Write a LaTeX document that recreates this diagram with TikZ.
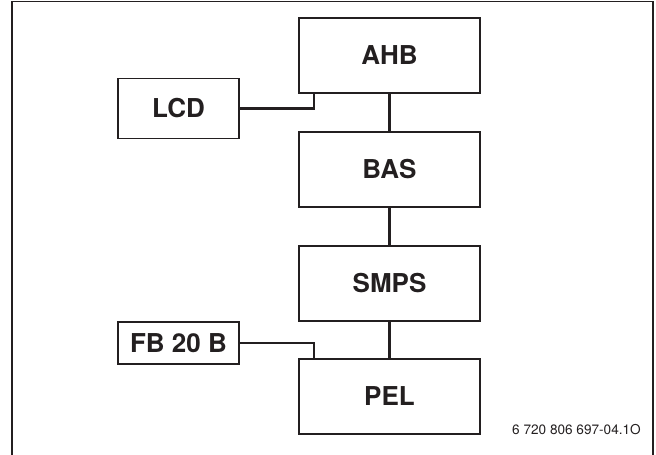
\documentclass[tikz,border=0pt]{standalone}
\usepackage{fontspec}
\setmainfont{TeX Gyre Heros}
\definecolor{ink}{HTML}{231F20}
\begin{document}
\begin{tikzpicture}[x=0.75pt,y=-0.75pt,
  mainbox/.style={draw=ink,line width=0.8pt,minimum width=135.75pt,minimum height=56.25pt,inner sep=0pt,font=\fontsize{19.5}{22}\selectfont\bfseries,text=ink},
  sidebox/.style={draw=ink,line width=0.8pt,minimum width=90.75pt,inner sep=0pt,font=\fontsize{19.5}{22}\selectfont\bfseries,text=ink},
  conn/.style={draw=ink,line width=1.6pt},
  frame/.style={draw=ink,line width=1.1pt}]
\useasboundingbox (0,0) rectangle (656,454);
\draw[frame] (12,455) -- (12,1.5) -- (653,1.5) -- (653,455);
\node[mainbox] (AHB) at (389.5,55.5) {AHB};
\node[mainbox] (BAS) at (389.5,169.5) {BAS};
\node[mainbox] (SMPS) at (389.5,283.5) {SMPS};
\node[mainbox] (PEL) at (389.5,396.5) {PEL};
\node[sidebox,minimum height=45pt] (LCD) at (178.5,108.5) {LCD};
\node[sidebox,minimum height=31.5pt] (FB) at (178.5,343) {FB 20 B};
\coordinate (lcdj) at (314,93);
\coordinate (fbj) at (314,359);
\draw[conn] (AHB) -- (BAS);
\draw[conn] (BAS) -- (SMPS);
\draw[conn] (SMPS) -- (PEL);
\draw[conn] (LCD.east) -| (lcdj);
\draw[conn] (FB.east) -| (fbj);
\node[anchor=east,inner sep=0pt,text=ink,font=\fontsize{10.2}{12}\selectfont] (code) at (641,430) {6 720 806 697-04.1O};
\end{tikzpicture}
\end{document}
